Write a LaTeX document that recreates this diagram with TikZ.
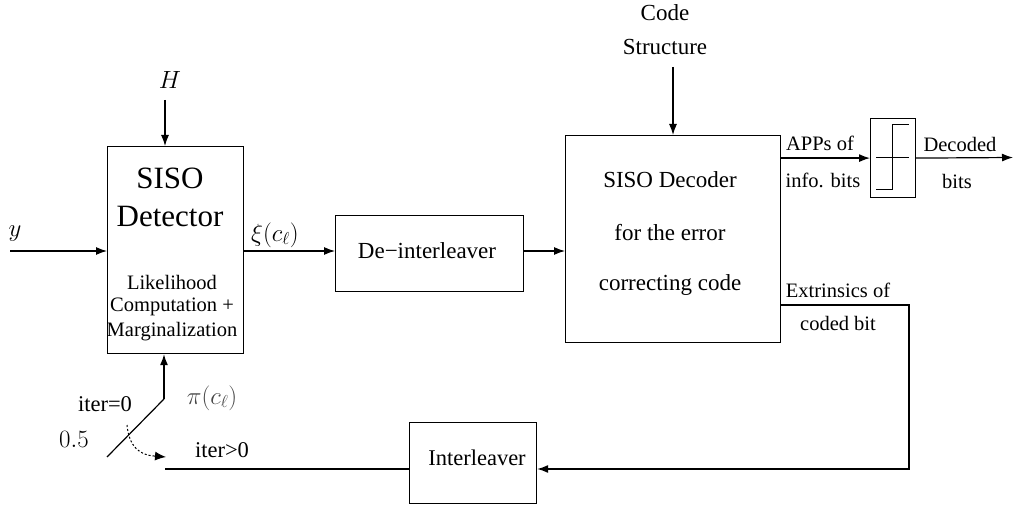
\documentclass[tikz,border=0pt]{standalone}
\usepackage[no-math]{fontspec}
\setmainfont{Liberation Serif}
\usetikzlibrary{arrows.meta}
\begin{document}
\begin{tikzpicture}[x=1pt,y=-1pt, line width=1.2pt,
  box/.style={draw, line width=1.2pt, inner sep=0pt, anchor=north west},
  arr/.style={-{Latex[length=11pt,width=8pt]}},
  txt/.style={inner sep=0pt, font=\fontsize{23}{27}\selectfont},
  stxt/.style={inner sep=0pt, font=\fontsize{20.5}{24}\selectfont},
  ltxt/.style={inner sep=0pt, font=\fontsize{22.5}{26}\selectfont},
  btxt/.style={inner sep=0pt, font=\fontsize{31}{35}\selectfont},
  mtxt/.style={inner sep=0pt, font=\fontsize{23}{27}\selectfont}]
\useasboundingbox (0,0) rectangle (1013,505);

% boxes
\node[box, minimum width=136pt, minimum height=207pt] (det) at (107,146) {};
\node[box, minimum width=188pt, minimum height=76pt] (deint) at (335,215) {};
\node[box, minimum width=215pt, minimum height=207pt] (dec) at (565,135) {};
\node[box, minimum width=45pt, minimum height=79pt] (hd) at (870,118) {};
\node[box, minimum width=127pt, minimum height=81pt] (inter) at (409,422) {};

% texts
\node[mtxt] (Hl) at (170,80) {$H$};
\node[mtxt] (yl) at (15,234) {$y$};
\node[mtxt] (xil) at (275,235) {$\xi(c_\ell)$};
\node[btxt] (siso) at (170,178) {SISO};
\node[btxt] (detl) at (170,217) {Detector};
\node[stxt] (lik) at (172,282) {Likelihood};
\node[stxt] (comp) at (172,307) {Computation +};
\node[stxt] (marg) at (172,332) {Marginalization};
\node[txt] (deintl) at (427,251) {De−interleaver};
\node[txt] (code) at (665,13) {Code};
\node[txt] (struct) at (665,47) {Structure};
\node[txt] (dec1) at (670,180) {SISO Decoder};
\node[txt] (dec2) at (670,233) {for the error};
\node[txt] (dec3) at (670,285) {correcting code};
\node[stxt] (apps) at (820,143) {APPs of};
\node[stxt] (info) at (823,180) {info. bits};
\node[stxt] (decd) at (960,144) {Decoded};
\node[stxt] (bits) at (957,181) {bits};
\node[stxt] (extr) at (838,290) {Extrinsics of};
\node[stxt] (coded) at (838,323) {coded bit};
\node[ltxt] (interl) at (477,458) {Interleaver};
\node[ltxt] (it0) at (105,404) {iter=0};
\node[mtxt] (half) at (74,439) {$0.5$};
\node[mtxt, text=black!72] (pil) at (212,398) {$\pi(c_\ell)$};
\node[ltxt] (itg) at (222,450) {iter>0};

% coordinates
\coordinate (yin) at (10,251);
\coordinate (Htop) at (165,100);
\coordinate (cs) at (673,67);
\coordinate (out) at (1013,157.5);
\coordinate (ex) at (780,305);
\coordinate (exc) at (909,305);
\coordinate (fb) at (909,469);
\coordinate (sw) at (165,469);
\coordinate (swa) at (107,457);
\coordinate (swb) at (164,399);
\coordinate (dt1) at (127,425);
\coordinate (dt3) at (154,456);
\coordinate (dt2) at (166,457);

% connectors
\draw[arr] (yin) -- (det.west |- yin);
\draw[arr] (Htop) -- (Htop |- det.north);
\draw[arr] (det.east |- yin) -- (deint.west |- yin);
\draw[arr] (deint.east |- yin) -- (dec.west |- yin);
\draw[arr] (cs) -- (cs |- dec.north);
\draw[arr] (dec.east |- hd.west) -- (hd.west);
\draw[arr] (hd.east) -- (out);
\draw[arr] (ex) -- (exc) -- (fb) -- (inter.east |- fb);
\draw (inter.west |- fb) -- (sw);
\draw (swa) -- (swb);
\draw[arr] (swb) -- (swb |- det.south);
\draw[line width=1pt, dash pattern=on 2pt off 2pt] (dt1) .. controls (129,447) and (140,455) .. (dt3);
\draw[line width=1pt, -{Latex[length=11pt,width=9pt]}] (dt3) -- (dt2);

% hard decision symbol
\draw[line width=1pt] (876,157.5) -- (909,157.5);
\draw[line width=1pt] (876,190) -- (892,190) -- (892,125) -- (909,125);
\end{tikzpicture}
\end{document}
